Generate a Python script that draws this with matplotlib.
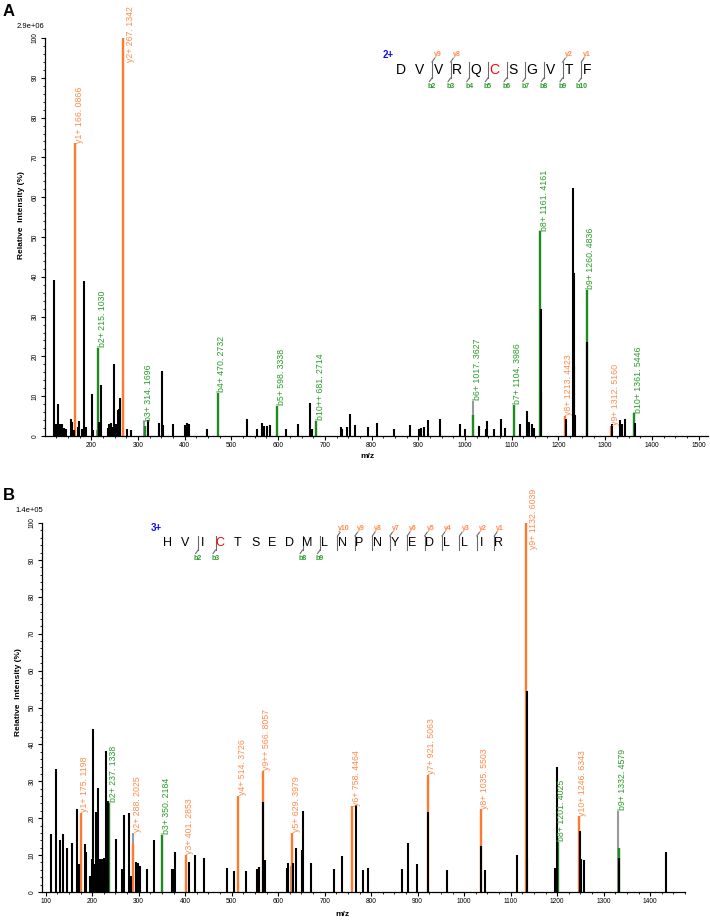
import numpy as np
import matplotlib
matplotlib.use('Agg')
import matplotlib.pyplot as plt
from matplotlib.ticker import MultipleLocator

plt.rcParams['font.family'] = ['Liberation Sans', 'DejaVu Sans']

BLACK = '#000000'
GREY = '#9a9a9a'
ORANGE = '#ff7a2e'
GREEN = '#1f8a1f'
ORANGE_TXT = '#ff8a4c'
GREEN_TXT = '#2a9a2a'

# ---------------- panel A data ----------------
a_mz = [120.5, 123.5, 129.5, 133.5, 137.5, 142.5, 146.5, 156.5, 158.5, 162.5, 171.5, 173.5,
        180.5, 185.5, 188.5, 201, 203.5, 216.5, 221, 235.5, 238.5, 241.5, 245.5, 249.5,
        253.5, 256.5, 259.5, 262.5, 276.5, 284.5, 320.5, 344.5, 351, 353.5, 375.5, 401.5,
        405.5, 408.5, 448.5, 533.5, 554.5, 564.5, 569.5, 575.5, 581.5, 616.5, 641.5, 668.5,
        671.5, 733.5, 736.5, 747.5, 754.5, 765.5, 793, 811, 849, 882, 901, 906, 912, 920,
        946, 989, 1000, 1029, 1044, 1046, 1062, 1077, 1086, 1118, 1133, 1136, 1143, 1148,
        1162.4, 1163.4, 1216, 1232, 1233, 1234, 1235, 1261.5, 1315, 1331, 1336, 1343, 1363]
a_int = [39.3, 3, 8, 3, 3, 2, 1.8, 4.3, 3.5, 1.6, 2.3, 3.7,
         1.8, 38.9, 2.3, 10.6, 1.6, 3.5, 12.8, 2, 2.9, 3.3, 2.3, 18.2,
         3.1, 6.6, 6.8, 9.6, 1.8, 1.6, 3.9, 3.2, 16.4, 2.7, 3.1, 2.8,
         3.2, 2.9, 1.8, 4.2, 1.7, 3.3, 2.5, 2.5, 2.8, 1.8, 3.1, 8.2,
         1.8, 2.3, 1.8, 2.3, 5.6, 2.7, 2.3, 3.2, 1.7, 2.7, 1.7, 2.1, 2.3, 4,
         4.3, 3.1, 1.7, 2.5, 1.8, 3.75, 1.8, 4.2, 2.1, 3.1, 6.4, 3.6, 3.1, 2.1,
         32, 11, 4.3, 62.3, 41, 17.5, 5.4, 23.5, 2.9, 3.9, 2.9, 4.2, 3.3]
a_grey_mz = [211.5, 268.5, 313.9, 1017.4]
a_grey_int = [1.4, 14, 3.7, 8.9]

a_y_names = ['y1+', 'y2+', 'y8+', 'y9+']
a_y_mz = [166.0866, 267.1342, 1213.4423, 1312.5160]
a_y_int = [73.5, 100, 5.0, 2.5]

a_b_names = ['b2+', 'b3+', 'b4+', 'b5+', 'b10++', 'b6+', 'b7+', 'b8+', 'b9+', 'b10+']
a_b_mz = [215.1030, 314.1696, 470.2732, 598.3338, 681.2714, 1017.3627, 1104.3986,
          1161.4161, 1260.4836, 1361.5446]
a_b_int = [22.1, 2.5, 10.8, 7.5, 3.75, 5.4, 7.9, 51.4, 36.8, 5.7]

a_seq = 'DVVRQCSGVTF'
a_seq_b = [2, 3, 4, 5, 6, 7, 8, 9, 10]
a_seq_y = [9, 8, 2, 1]

# ---------------- panel B data ----------------
b_mz = [110.6, 121.4, 131.4, 137.1, 145.7, 157.2, 167.9, 171.5, 183.7, 187.3, 195.9, 199.5,
        202.3, 204.5, 206.6, 208.8, 211.6, 214, 216, 218, 220.2, 222.5, 224.5, 226.7, 228.8,
        231.7, 233.1, 251.8, 264.7, 267.5, 279, 282.6, 294.8, 298.4, 303.4, 318.4, 332.7,
        371.4, 375, 378.6, 407.3, 420.2, 439.5, 490.4, 504.7, 529.8, 554.9, 558.5, 567.8,
        572.1, 618.7, 621.5, 631.6, 638.7, 650.2, 653.1, 671, 719.7, 737.6, 767, 782.8,
        793.5, 866.7, 879.6, 898.9, 922.8, 964.1, 1037.3, 1045.9, 1114, 1134.8, 1136.2,
        1195, 1199.3, 1249.5, 1250.9, 1258.1, 1333.8, 1433.7]
b_int = [15.8, 33.2, 14.2, 15.8, 11.8, 13.3, 22.4, 7.7, 12.9, 10.9, 4.3, 9,
         44.3, 7.5, 7, 21.7, 28.2, 8.5, 9, 8.5, 9, 8.8, 9.2, 6.3, 38.2,
         16.3, 24.6, 14.3, 6.3, 20.8, 21.4, 4.3, 8.1, 7.9, 7, 6.1, 14,
         6.1, 6.3, 10.9, 8.1, 10.1, 9.2, 6.6, 5.6, 5.7, 6.1, 6.8, 24.3,
         8.6, 6.6, 7.9, 7.9, 11.8, 11.3, 22, 7.9, 6.3, 9.7, 23.5, 5.9,
         6.6, 6.1, 13.4, 7.5, 21.7, 5.9, 12.5, 5.9, 10, 54.6, 8.9,
         6.6, 34, 16.6, 9, 8.6, 9.3, 10.9]
b_grey_mz = [288.6, 626.5, 1331.6]
b_grey_int = [16, 7, 22]

b_y_names = ['y1+', 'y2+', 'y3+', 'y4+', 'y9++', 'y5+', 'y6+', 'y7+', 'y8+', 'y9+', 'y10+']
b_y_mz = [175.1198, 288.2025, 401.2853, 514.3726, 566.8057, 629.3979, 758.4464,
          921.5063, 1035.5503, 1132.6039, 1246.6343]
b_y_int = [21.4, 13.1, 10, 26, 32.9, 16, 23.2, 31.7, 22.4, 100, 20.5]

b_b_names = ['b2+', 'b3+', 'b8+', 'b9+']
b_b_mz = [237.1338, 350.2184, 1201.4025, 1332.4579]
b_b_int = [24.2, 15.4, 13.6, 11.8]

b_seq = 'HVICTSEDMLNPNYEDLLIR'
b_seq_b = [2, 3, 8, 9]
b_seq_y = [10, 9, 8, 7, 6, 5, 4, 3, 2, 1]


def fmt(name, mz):
    return name + ' ' + ('%.4f' % mz).replace('.', '. ')


def spectrum(ax, xlim, ticks, blk_mz, blk_int, gr_mz, gr_int, y_names, y_mz, y_int,
             b_names, b_mz_, b_int_, top_shift):
    ax.vlines(gr_mz, 0, gr_int, color=GREY, lw=1.5, zorder=1)
    ax.vlines(y_mz, 0, y_int, color=ORANGE, lw=1.7, zorder=2)
    ax.vlines(b_mz_, 0, b_int_, color=GREEN, lw=1.7, zorder=2)
    ax.vlines(blk_mz, 0, blk_int, color=BLACK, lw=1.5, zorder=3)
    gm = np.array(gr_mz)
    gi = np.array(gr_int)
    for names, mzs, ints, col in [(y_names, y_mz, y_int, ORANGE_TXT),
                                  (b_names, b_mz_, b_int_, GREEN_TXT)]:
        for n, m, i in zip(names, mzs, ints):
            if i >= 99:
                ax.annotate(fmt(n, m), xy=(m, top_shift), xytext=(5.5, 0),
                            textcoords='offset points', rotation=90, ha='center',
                            va='bottom', fontsize=6.3, color=col, annotation_clip=False)
            else:
                near = gi[np.abs(gm - m) < 1.5]
                base = max([i] + list(near))
                ax.annotate(fmt(n, m), xy=(m, base), xytext=(3, 0.5),
                            textcoords='offset points', rotation=90, ha='center',
                            va='bottom', fontsize=6.3, color=col, annotation_clip=False)
    ax.set_xlim(*xlim)
    ax.set_ylim(0, 100)
    ax.set_xticks(ticks)
    ax.xaxis.set_minor_locator(MultipleLocator(25))
    ax.yaxis.set_major_locator(MultipleLocator(10))
    ax.yaxis.set_minor_locator(MultipleLocator(2))
    ax.tick_params(axis='both', which='major', labelsize=4.8, length=3, width=0.8, pad=1.5)
    ax.tick_params(axis='both', which='minor', length=1.6, width=0.6)
    ax.tick_params(axis='y', labelrotation=90)
    for lab in ax.get_yticklabels():
        lab.set_va('center')
    for s in ['top', 'right']:
        ax.spines[s].set_visible(False)
    for s in ['left', 'bottom']:
        ax.spines[s].set_linewidth(0.9)


def sequence(ax, seq, x0, dx, y, half, fs, b_ions, y_ions, charge, shift):
    ax.text(x0 - 0.7 * dx, y - 15, charge, color='#1010ee', fontsize=7, fontweight='bold',
            ha='center', va='center')
    for i, aa in enumerate(seq):
        ax.text(x0 + i * dx, y, aa, color='red' if aa == 'C' else 'black', fontsize=fs,
                ha='center', va='center')
    n = len(seq)
    for k in range(1, n):
        has_b = k in b_ions
        has_y = (n - k) in y_ions
        if not (has_b or has_y):
            continue
        gx = x0 + (k - 0.5) * dx + shift
        ax.plot([gx, gx], [y - half, y + half], color='#6a6a6a', lw=0.8)
        if has_y:
            ax.plot([gx, gx + 2.5], [y - half, y - half - 3.5], color='#6a6a6a', lw=0.8)
            ax.text(gx + 6, y - half - 8, 'y' + str(n - k), color=ORANGE_TXT, fontsize=5,
                    fontweight='bold', ha='center', va='center')
        if has_b:
            ax.plot([gx, gx - 2.5], [y + half, y + half + 3.5], color='#6a6a6a', lw=0.8)
            ax.text(gx, y + half + 8, 'b' + str(k), color=GREEN_TXT, fontsize=5,
                    fontweight='bold', ha='center', va='center')


W, H = 710, 923
fig = plt.figure(figsize=(7.1, 9.23), dpi=100)

axA = fig.add_axes([45 / W, 1 - 436 / H, (708 - 45) / W, (436 - 38) / H])
spectrum(axA, (101, 1520), np.arange(200, 1501, 100), a_mz, a_int, a_grey_mz, a_grey_int,
         a_y_names, a_y_mz, a_y_int, a_b_names, a_b_mz, a_b_int, 94)

axB = fig.add_axes([42 / W, 1 - 892 / H, (685 - 42) / W, (892 - 523) / H])
spectrum(axB, (92, 1475), np.arange(100, 1401, 100), b_mz, b_int, b_grey_mz, b_grey_int,
         b_y_names, b_y_mz, b_y_int, b_b_names, b_b_mz, b_b_int, 93)

# overlay in pixel coordinates for text and peptide sequence maps
ov = fig.add_axes([0, 0, 1, 1], facecolor='none')
ov.set_xlim(0, W)
ov.set_ylim(H, 0)
ov.axis('off')

ov.text(9, 12, 'A', fontsize=12, fontweight='bold', ha='center', va='center')
ov.text(9, 496, 'B', fontsize=12, fontweight='bold', ha='center', va='center')
ov.text(30, 26, '2.9e+06', fontsize=5.5, ha='center', va='center')
ov.text(29, 511, '1.4e+05', fontsize=5.5, ha='center', va='center')
ov.text(22, 215, 'Relative  Intensity (%)', fontsize=6, fontweight='bold', rotation=90,
        ha='center', va='center')
ov.text(19, 692, 'Relative  Intensity (%)', fontsize=6, fontweight='bold', rotation=90,
        ha='center', va='center')
ov.text(367, 457, 'm/z', fontsize=6, fontweight='bold', ha='center', va='center')
ov.text(342, 914, 'm/z', fontsize=6, fontweight='bold', ha='center', va='center')

sequence(ov, a_seq, 401, 18.66, 70, 8, 10, a_seq_b, a_seq_y, '2+', 3)
sequence(ov, b_seq, 168, 17.42, 543, 7, 9, b_seq_b, b_seq_y, '3+', 4)

fig.savefig('out.png', dpi=100)
